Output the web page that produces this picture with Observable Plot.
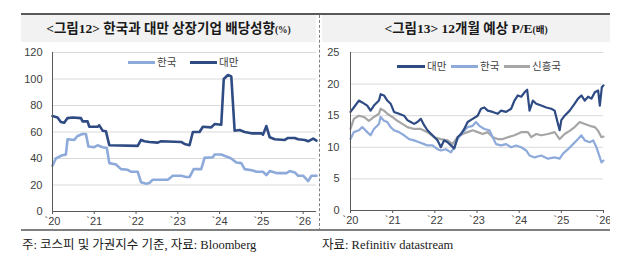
<!DOCTYPE html>
<html><head><meta charset="utf-8">
<script src="https://cdn.jsdelivr.net/npm/d3@7"></script>
<script src="https://cdn.jsdelivr.net/npm/@observablehq/plot@0.6"></script>
<style>
body{margin:0;width:640px;height:255px;background:#fff;position:relative;overflow:hidden;font-family:"Liberation Sans",Arial,sans-serif;}
.abs{position:absolute;}
.title{font-family:"Liberation Serif","Noto Sans CJK KR",serif;font-weight:bold;font-size:13.5px;color:#1a1a1a;white-space:nowrap;line-height:27px;text-align:center;}
.title small{font-size:9.5px;font-weight:bold;}
.note{font-family:"Liberation Serif","Noto Sans CJK KR",serif;font-size:12.5px;color:#1a1a1a;white-space:nowrap;}
.leg{font-family:"Noto Sans CJK KR",sans-serif;font-size:10.5px;color:#404040;white-space:nowrap;line-height:12px;}
.sw{position:absolute;height:3px;}
svg{position:absolute;}
</style></head>
<body>
<script>
// ---------- data ----------
const yearTicks = [2020, 2021, 2022, 2023, 2024, 2025, 2026];
const yearLabels = ["`20", "`21", "`22", "`23", "`24", "`25", "`26"];

// Left chart: payout ratio (%)
const payoutTicks = [0, 20, 40, 60, 80, 100, 120];
const payoutKrT = [2020.00,2020.08,2020.20,2020.32,2020.36,2020.52,2020.60,2020.72,2020.80,2020.86,2021.00,2021.08,2021.20,2021.30,2021.36,2021.52,2021.64,2021.80,2021.88,2022.04,2022.12,2022.24,2022.32,2022.40,2022.76,2022.88,2023.08,2023.20,2023.28,2023.38,2023.56,2023.64,2023.84,2023.88,2024.04,2024.16,2024.28,2024.40,2024.52,2024.60,2024.80,2024.88,2025.04,2025.12,2025.20,2025.36,2025.60,2025.68,2025.80,2025.88,2026.00,2026.12,2026.20,2026.32];
const payoutKrV = [34.5,40,42,43,54.5,54,57,58.5,58.5,49,48.5,50,48.5,48,36.5,35.5,32,31.5,30,30,22,21,21.5,24,24,27,27,26,26,32,32,40.5,41,43,43,41.5,40,37,36.5,32,31,30,30,27.5,30.5,29,29,30.5,29.5,27,27,23,27,27];
const payoutTwT = [2020.00,2020.12,2020.20,2020.28,2020.36,2020.48,2020.68,2020.72,2020.84,2020.88,2021.08,2021.12,2021.20,2021.28,2021.36,2022.04,2022.12,2022.20,2022.32,2022.52,2022.60,2023.08,2023.16,2023.28,2023.36,2023.52,2023.60,2023.80,2023.88,2024.04,2024.10,2024.20,2024.28,2024.36,2024.48,2024.60,2024.76,2025.00,2025.04,2025.12,2025.20,2025.32,2025.56,2025.64,2025.80,2025.88,2026.04,2026.12,2026.24,2026.32];
const payoutTwV = [72,71,67.5,67,70.5,71,70.5,68,68,64,64,65,61,60.5,50,49.5,54,53,52.5,52,53,52.5,51,50,60,60,64,63.5,66,65.5,100,103,102,61,61.5,60,59,59,58,64.5,56,54.5,54,55.5,55.5,54.5,54,53,55,53.5];

// Right chart: 12M forward P/E (x), time as years after 2020
const peTicks = [0, 5, 10, 15, 20, 25];
const peTwT = [0,.079,.198,.278,.397,.476,.556,.675,.714,.794,.873,.952,1.032,1.151,1.270,1.349,1.429,1.508,1.587,1.667,1.746,1.825,1.944,2.063,2.143,2.222,2.302,2.381,2.460,2.540,2.619,2.698,2.778,2.897,3.016,3.095,3.175,3.254,3.373,3.492,3.571,3.690,3.810,3.889,3.968,4.048,4.127,4.190,4.246,4.325,4.405,4.524,4.643,4.762,4.841,4.921,4.960,5.0,5.079,5.198,5.317,5.397,5.476,5.556,5.635,5.714,5.794,5.873,5.913,5.960,6.0];
const peTwV = [15.6,16.3,17.4,17.1,16.6,15.8,16.6,17.4,18.4,18.2,17.4,16.9,15.6,15.3,15.0,14.3,14.0,13.7,14.0,14.5,13.5,12.7,11.9,11.1,10.0,11.1,10.8,10.3,9.8,11.6,12.1,12.9,14.0,14.5,15.0,16.1,16.3,15.8,15.6,15.3,15.8,15.6,16.1,17.4,18.2,18.0,18.7,19.1,15.8,17.4,16.9,16.6,16.3,16.1,15.8,13.7,12.7,14.3,15.0,15.8,16.9,17.7,18.2,17.4,18.0,17.7,18.7,19.0,16.6,19.5,19.8];
const peKrT = [0,.079,.198,.278,.397,.476,.556,.675,.714,.794,.873,.952,1.032,1.151,1.270,1.389,1.508,1.627,1.746,1.825,1.944,2.063,2.143,2.262,2.381,2.460,2.540,2.619,2.698,2.778,2.897,2.976,3.056,3.175,3.294,3.373,3.452,3.571,3.690,3.810,3.929,4.048,4.167,4.246,4.365,4.524,4.683,4.841,4.960,5.040,5.159,5.278,5.397,5.476,5.556,5.675,5.754,5.833,5.913,5.952,6.0];
const peKrV = [11.3,12.4,12.7,13.2,12.4,11.9,12.9,13.7,14.8,14.2,14.0,13.2,12.7,12.4,11.9,11.3,11.1,10.8,10.5,10.3,10.3,9.7,9.5,9.7,9.2,10.0,11.3,12.1,12.6,13.2,13.4,14.0,13.4,12.9,12.7,11.6,10.5,10.3,10.5,10.0,10.3,10.0,9.5,8.7,8.4,8.7,8.2,8.4,8.2,9.0,9.7,10.5,11.3,11.9,11.1,10.8,11.1,10.0,8.4,7.6,7.9];
const peEmT = [0,.079,.198,.317,.437,.556,.675,.714,.794,.873,.992,1.111,1.230,1.349,1.508,1.667,1.825,1.984,2.143,2.302,2.421,2.540,2.659,2.778,2.897,3.016,3.135,3.254,3.373,3.492,3.611,3.730,3.889,4.048,4.206,4.286,4.405,4.524,4.683,4.841,4.960,5.079,5.198,5.317,5.437,5.556,5.675,5.794,5.873,5.952,6.0];
const peEmV = [12.9,14.5,15.0,14.8,14.2,14.8,15.3,16.1,15.8,15.3,14.8,14.2,13.7,13.2,12.9,12.9,12.4,11.6,11.3,11.1,10.5,11.6,12.1,12.4,12.7,12.4,12.1,12.4,11.6,11.3,11.3,11.6,11.9,12.4,12.4,11.6,12.1,11.9,12.1,12.4,11.3,12.1,12.6,13.2,14.0,13.7,13.4,13.2,12.6,11.6,11.7];

const DARK = "#2e4b84", LIGHT = "#8eaadb", GRAY = "#a6a6a6";
const AXIS = "#595959", GRID = "#d9d9d9";

function rows(ts, vs, offset = 0) { return ts.map((t, i) => ({t: t + offset, v: vs[i]})); }

const axisFont = {fontSize: 11, fill: "#404040"};

// ---------- left ----------
const leftPlot = Plot.plot({
  width: 320, height: 185,
  marginLeft: 52, marginRight: 4, marginTop: 7, marginBottom: 19,
  style: {fontFamily: "'Liberation Sans', Arial, sans-serif", fontSize: "11px", color: "#404040", background: "transparent"},
  x: {domain: [2020, 2026.32]},
  y: {domain: [0, 120]},
  marks: [
    Plot.gridY(payoutTicks.slice(1), {stroke: GRID, strokeOpacity: 1}),
    Plot.line(rows(payoutKrT, payoutKrV), {x: "t", y: "v", stroke: LIGHT, strokeWidth: 2.6}),
    Plot.line(rows(payoutTwT, payoutTwV), {x: "t", y: "v", stroke: DARK, strokeWidth: 2.6}),
    Plot.ruleX([2020], {stroke: AXIS}),
    Plot.ruleY([0], {stroke: AXIS}),
    Plot.axisY(payoutTicks, {tickSize: 0, tickPadding: 10, label: null, ...axisFont}),
    Plot.axisX(yearTicks, {tickSize: 3, tickPadding: 3, stroke: AXIS, label: null, tickFormat: (d) => yearLabels[yearTicks.indexOf(d)], ...axisFont})
  ]
});
leftPlot.style.left = "0px"; leftPlot.style.top = "45px";

// ---------- right ----------
const rightPlot = Plot.plot({
  width: 290, height: 185,
  marginLeft: 30, marginRight: 7, marginTop: 7, marginBottom: 20,
  style: {fontFamily: "'Liberation Sans', Arial, sans-serif", fontSize: "11px", color: "#404040", background: "transparent"},
  x: {domain: [2020, 2026]},
  y: {domain: [0, 25]},
  marks: [
    Plot.gridY(peTicks.slice(1), {stroke: GRID, strokeOpacity: 1}),
    Plot.line(rows(peEmT, peEmV, 2020), {x: "t", y: "v", stroke: GRAY, strokeWidth: 2.2}),
    Plot.line(rows(peKrT, peKrV, 2020), {x: "t", y: "v", stroke: LIGHT, strokeWidth: 2.2}),
    Plot.line(rows(peTwT, peTwV, 2020), {x: "t", y: "v", stroke: DARK, strokeWidth: 2.2}),
    Plot.ruleX([2020], {stroke: AXIS}),
    Plot.ruleY([0], {stroke: AXIS}),
    Plot.axisY(peTicks, {tickSize: 0, tickPadding: 11, label: null, ...axisFont}),
    Plot.axisX(yearTicks, {tickSize: 3, tickPadding: 3, stroke: AXIS, label: null, tickFormat: (d) => yearLabels[yearTicks.indexOf(d)], ...axisFont})
  ]
});
rightPlot.style.left = "320px"; rightPlot.style.top = "45px";

document.body.append(leftPlot, rightPlot);
</script>

<!-- frame -->
<div class="abs" style="left:21px;top:13px;width:589px;height:2px;background:#595959"></div>
<div class="abs" style="left:21px;top:15px;width:295px;height:27px;background:#f2f2f2"></div>
<div class="abs" style="left:322px;top:15px;width:288px;height:27px;background:#f2f2f2"></div>
<div class="abs" style="left:319px;top:15px;height:216px;border-left:1px dashed #808080"></div>
<div class="abs" style="left:21px;top:229px;width:589px;height:2px;background:#808080"></div>

<div class="abs title" style="left:21px;top:15px;width:295px;">&lt;그림12&gt; 한국과 대만 상장기업 배당성향<small>(%)</small></div>
<div class="abs title" style="left:322px;top:15px;width:288px;">&lt;그림13&gt; 12개월 예상 P/E<small>(배)</small></div>

<!-- legends -->
<div class="sw" style="left:128px;top:61px;width:27px;background:#8eaadb"></div>
<div class="abs leg" style="left:157px;top:56px;">한국</div>
<div class="sw" style="left:190px;top:61px;width:27px;background:#2e4b84"></div>
<div class="abs leg" style="left:219px;top:56px;">대만</div>

<div class="sw" style="left:397px;top:65px;width:28px;background:#2e4b84"></div>
<div class="abs leg" style="left:427px;top:60px;">대만</div>
<div class="sw" style="left:451px;top:65px;width:27px;background:#8eaadb"></div>
<div class="abs leg" style="left:480px;top:60px;">한국</div>
<div class="sw" style="left:504px;top:65px;width:26px;background:#a6a6a6"></div>
<div class="abs leg" style="left:532px;top:60px;">신흥국</div>

<!-- notes -->
<div class="abs note" style="left:22px;top:234px;">주: 코스피 및 가권지수 기준, 자료: Bloomberg</div>
<div class="abs note" style="left:322px;top:234px;">자료: Refinitiv datastream</div>
</body></html>
